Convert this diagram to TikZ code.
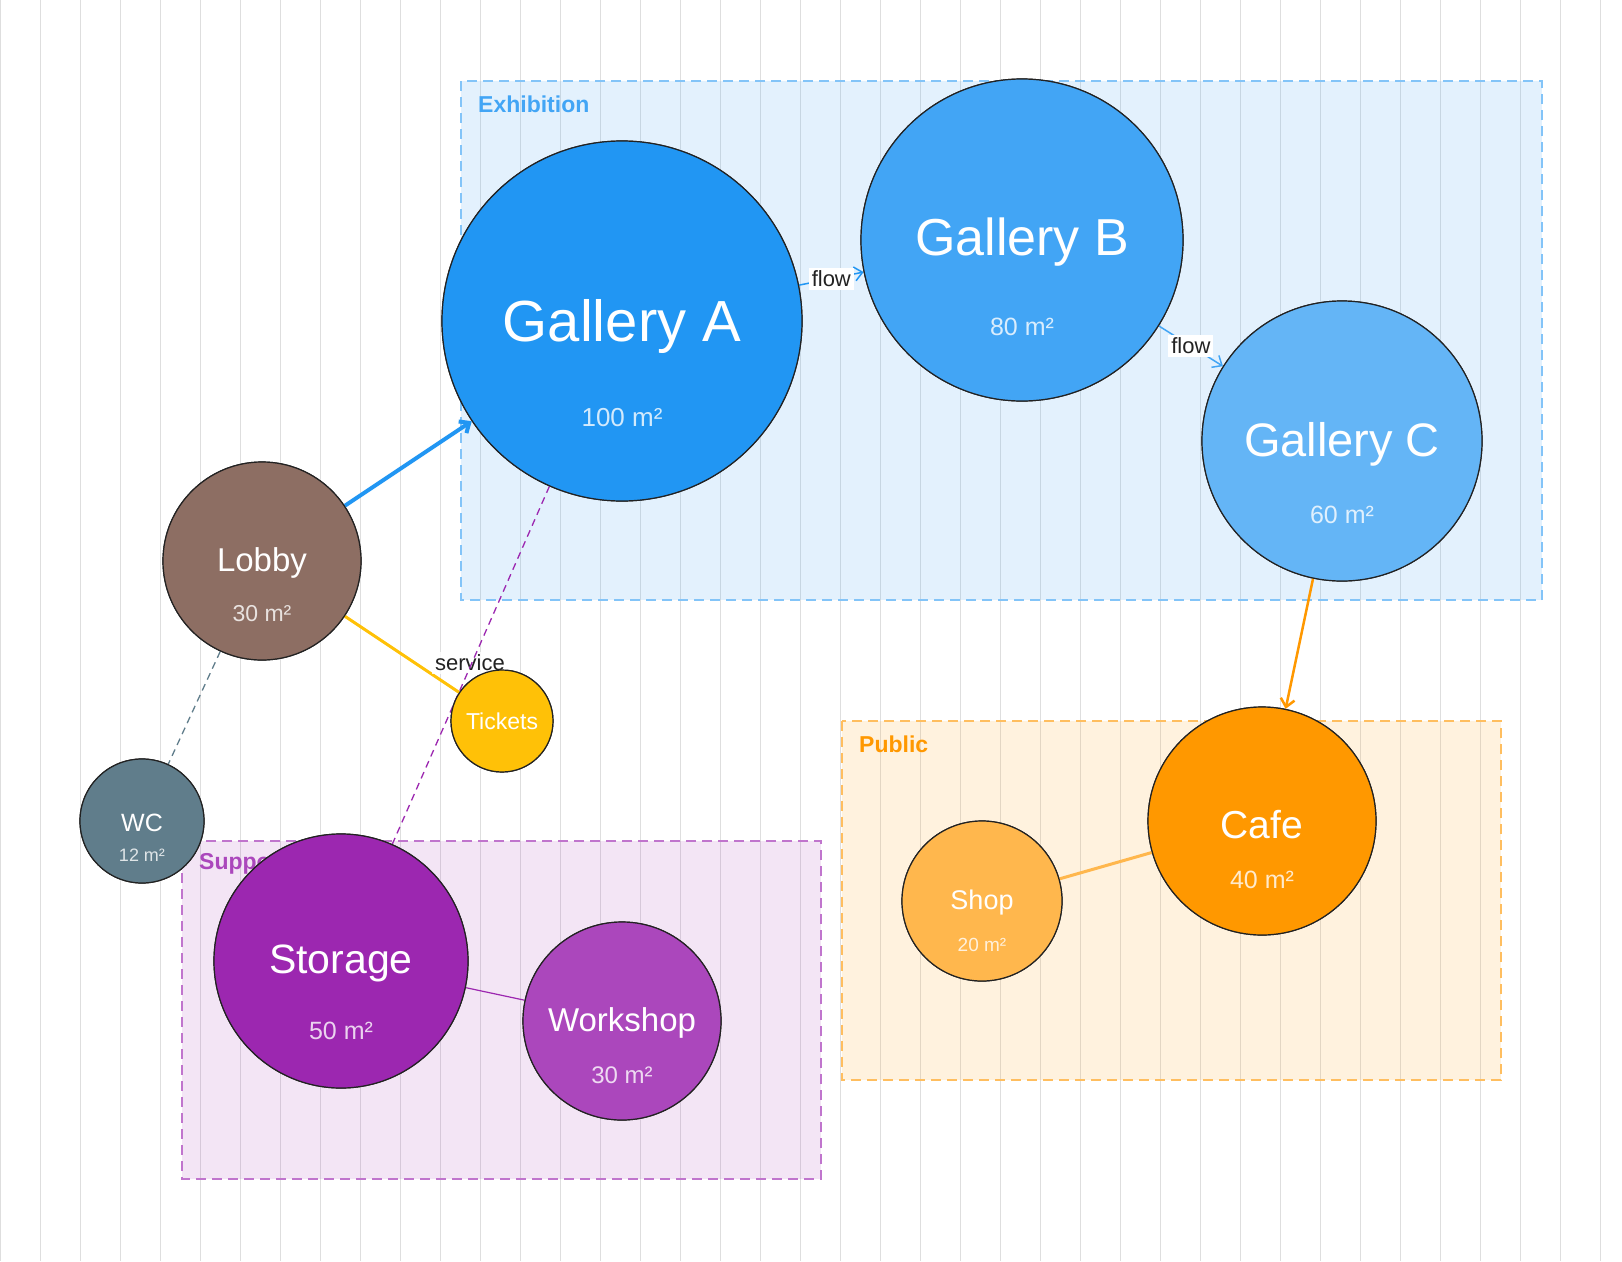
\documentclass[tikz,border=0pt]{standalone}
\usepackage{fontspec}
\setmainfont{Liberation Sans}
\usetikzlibrary{arrows.meta}
\definecolor{gA}{HTML}{2196F3}
\definecolor{gB}{HTML}{42A5F5}
\definecolor{gC}{HTML}{64B5F6}
\definecolor{lob}{HTML}{8D6E63}
\definecolor{tic}{HTML}{FFC107}
\definecolor{wcc}{HTML}{607D8B}
\definecolor{sto}{HTML}{9C27B0}
\definecolor{wor}{HTML}{AB47BC}
\definecolor{sho}{HTML}{FFB74D}
\definecolor{caf}{HTML}{FF9800}
\definecolor{ink}{HTML}{222222}
\tikzset{
 room/.style={circle,draw=ink,line width=1.2pt,inner sep=0pt,minimum size=#1},
 nm/.style={text=white,font=\fontsize{#1}{#1}\selectfont,inner sep=0pt},
 ar/.style={text=white,opacity=0.8,font=\fontsize{#1}{#1}\selectfont,inner sep=0pt},
 zone/.style={dashed,dash pattern=on 10pt off 6pt,line width=2pt},
 zlab/.style={font=\bfseries\fontsize{23}{23}\selectfont,anchor=west,inner sep=0pt},
 elab/.style={fill=white,text=ink,font=\fontsize{22}{22}\selectfont,inner sep=3pt},
 tip/.style={-{Straight Barb[length=8pt,width=14pt]}}
}
\begin{document}
\begin{tikzpicture}[x=1pt,y=-1pt]
\useasboundingbox (0,0) rectangle (1622,1261);
\fill[white] (0,0) rectangle (1622,1261);
\draw[black!13,line width=1pt,step=40] (0,0) grid (1622,1261);
% zones
\fill[gC,opacity=0.18] (461,81) rectangle (1542,600);
\draw[zone,gC!80] (461,81) rectangle (1542,600);
\node[zlab,text=gB] (zex) at (478,104) {Exhibition};
\fill[sho,opacity=0.18] (842,721) rectangle (1501,1080);
\draw[zone,sho!90] (842,721) rectangle (1501,1080);
\node[zlab,text=caf] (zpu) at (859,744) {Public};
\fill[wor,opacity=0.14] (182,841) rectangle (821,1179);
\draw[zone,wor!75] (182,841) rectangle (821,1179);
\node[zlab,text=wor] (zsu) at (199,864) {Support};
% rooms
\node[room=360pt,fill=gA] (A) at (622,321) {};
\node[room=322pt,fill=gB] (B) at (1022,240) {};
\node[room=280pt,fill=gC] (C) at (1342,441) {};
\node[room=198pt,fill=lob] (L) at (262,561) {};
\node[room=102pt,fill=tic] (T) at (502,721) {};
\node[room=124pt,fill=wcc] (W) at (142,821) {};
\node[room=254pt,fill=sto] (S) at (341,961) {};
\node[room=198pt,fill=wor] (K) at (622,1021) {};
\node[room=160pt,fill=sho] (P) at (982,901) {};
\node[room=228pt,fill=caf] (F) at (1262,821) {};
% edges
\draw[gA,line width=1.5pt,tip] (A) -- node[elab,pos=0.5] (fl1) {flow} (B);
\draw[gB,line width=1.5pt,tip] (B) -- node[elab,pos=0.5] (fl2) {flow} (C);
\draw[gA,line width=4pt,tip] (L) -- (A);
\draw[tic,line width=3pt] (L) -- (T);
\node[elab,fill opacity=0.8,text opacity=1] (sv) at (470,663) {service};
\draw[sto,line width=1.3pt,dash pattern=on 7pt off 5pt] (A) -- (S);
\draw[wcc,line width=1.3pt,dash pattern=on 7pt off 5pt] (L) -- (W);
\draw[caf,line width=2.5pt,tip] (C) -- (F);
\draw[sho,line width=3pt] (F) -- (P);
\draw[sto,line width=1.2pt] (S) -- (K);
% redraw circles on top
\foreach \n/\c/\s in {A/gA/360,B/gB/322,C/gC/280,L/lob/198,T/tic/102,W/wcc/124,S/sto/254,K/wor/198,P/sho/160,F/caf/228}
  \node[room=\s pt,fill=\c] at (\n) {};
% texts
\node[nm=58] (At) at ([yshift=-5]A) {Gallery A};
\node[ar=26] (Aa) at ([yshift=-97]A) {100 m²};
\node[nm=52] (Bt) at ([yshift=-2]B) {Gallery B};
\node[ar=25] (Ba) at ([yshift=-87]B) {80 m²};
\node[nm=47] (Ct) at ([yshift=-3]C) {Gallery C};
\node[ar=25] (Ca) at ([yshift=-74]C) {60 m²};
\node[nm=33] (Lt) at ([yshift=-2]L) {Lobby};
\node[ar=23] (La) at ([yshift=-53]L) {30 m²};
\node[nm=23] (Tt) at (T) {Tickets};
\node[nm=25] (Wt) at ([yshift=-2]W) {WC};
\node[ar=18] (Wa) at ([yshift=-34]W) {12 m²};
\node[nm=41] (St) at ([yshift=-2]S) {Storage};
\node[ar=25] (Sa) at ([yshift=-70]S) {50 m²};
\node[nm=33] (Kt) at ([yshift=-2]K) {Workshop};
\node[ar=24] (Ka) at ([yshift=-54]K) {30 m²};
\node[nm=39] (Ft) at ([yshift=-4]F) {Cafe};
\node[ar=25] (Fa) at ([yshift=-59]F) {40 m²};
\node[nm=27] (Pt) at ([yshift=-2]P) {Shop};
\node[ar=19] (Pa) at ([yshift=-44]P) {20 m²};
\end{tikzpicture}
\end{document}
